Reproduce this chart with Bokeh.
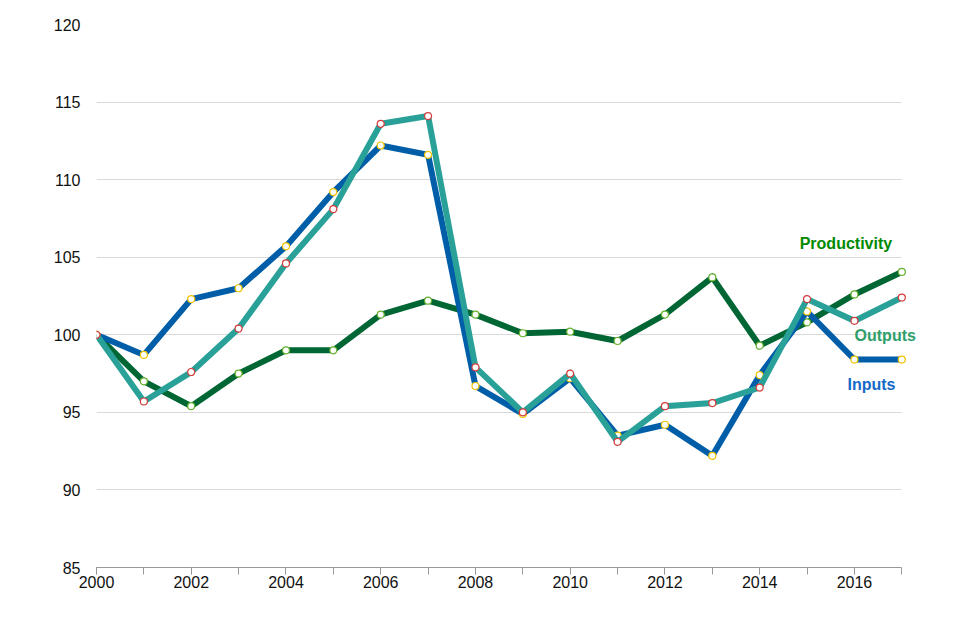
from bokeh.plotting import figure
from bokeh.models import Range1d, SingleIntervalTicker, Label, ColumnDataSource, BoxAnnotation
from bokeh.embed import file_html
from bokeh.resources import INLINE

years = list(range(2000, 2018))
inputs = [100.0, 98.7, 102.3, 103.0, 105.7, 109.2, 112.2, 111.6, 96.7, 94.9,
          97.2, 93.5, 94.2, 92.2, 97.4, 101.5, 98.4, 98.4]
outputs = [100.0, 95.7, 97.6, 100.4, 104.6, 108.1, 113.6, 114.1, 97.9, 95.0,
           97.5, 93.1, 95.4, 95.6, 96.6, 102.3, 100.9, 102.4]
productivity = [100.0, 97.0, 95.4, 97.5, 99.0, 99.0, 101.3, 102.2, 101.3, 100.1,
                100.2, 99.6, 101.3, 103.7, 99.3, 100.8, 102.6, 104.05]

FONT = "Liberation Sans"

p = figure(width=950, height=612, output_backend="svg", toolbar_location=None,
           x_range=Range1d(2000, 2017.5), y_range=Range1d(85, 120),
           min_border_left=96, min_border_right=25, min_border_top=24,
           min_border_bottom=45, frame_width=829, frame_height=543)
p.outline_line_color = None
p.background_fill_color = "white"

p.xgrid.grid_line_color = None
p.ygrid.grid_line_color = "#d9d9d9"
p.ygrid.grid_line_width = 1
p.yaxis.ticker = SingleIntervalTicker(interval=5, num_minor_ticks=0)
p.xaxis.ticker = SingleIntervalTicker(interval=2, num_minor_ticks=2)
p.xaxis.bounds = (2000, 2017)

p.yaxis.axis_line_color = None
p.yaxis.major_tick_line_color = None
p.yaxis.minor_tick_line_color = None
p.yaxis.major_label_standoff = 10
p.yaxis.major_label_text_font = FONT
p.yaxis.major_label_text_font_size = "16px"
p.yaxis.major_label_text_color = "#111111"

p.xaxis.axis_line_color = "#999999"
p.xaxis.major_tick_line_color = "#999999"
p.xaxis.minor_tick_line_color = "#999999"
p.xaxis.major_tick_out = 7
p.xaxis.major_tick_in = 0
p.xaxis.minor_tick_out = 7
p.xaxis.minor_tick_in = 0
p.xaxis.major_label_standoff = 1
p.xaxis.major_label_text_font = FONT
p.xaxis.major_label_text_font_size = "16px"
p.xaxis.major_label_text_color = "#111111"

# hide gridlines beyond the last year
p.add_layout(BoxAnnotation(left=2017, fill_color="white", fill_alpha=1.0,
                           line_color=None, level="underlay"))

series = [
    (productivity, "#006633", "#66b22e"),
    (inputs, "#005ea8", "#f2c300"),
    (outputs, "#2aa198", "#d63b3b"),
]
for vals, lc, mc in series:
    src = ColumnDataSource(dict(x=years, y=vals))
    p.line("x", "y", source=src, line_color=lc, line_width=6, line_join="miter")
    p.scatter("x", "y", source=src, size=7, fill_color="white",
              line_color=mc, line_width=1.2)

labels = [
    ("Productivity", 2015.82, 105.9, "#008a00"),
    ("Outputs", 2016.65, 99.94, "#2e9e6b"),
    ("Inputs", 2016.36, 96.77, "#1569c7"),
]
for txt, lx, ly, col in labels:
    p.add_layout(Label(x=lx, y=ly, text=txt, text_align="center",
                       text_baseline="middle", text_font=FONT,
                       text_font_size="16px", text_font_style="bold",
                       text_color=col, level="overlay"))

open("out.html", "w").write(file_html(p, INLINE))
